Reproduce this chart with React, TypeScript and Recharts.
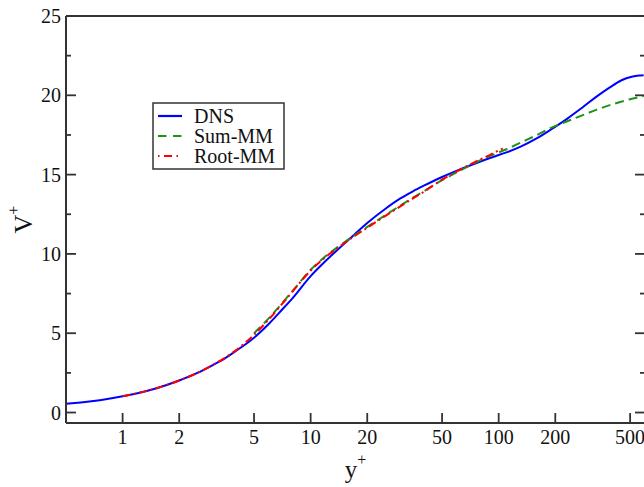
import { LineChart, Line, XAxis, YAxis } from 'recharts'

// mean velocity profile, wall units (log x)
const dnsYPlus = [0.5, 0.6, 0.7, 0.8, 1, 1.2, 1.5, 2, 2.5, 3, 3.5, 4, 5, 6, 7, 8, 10, 12, 14, 17, 20, 25, 30, 35, 40, 50, 60, 75, 90, 110, 130, 160, 190, 230, 280, 330, 390, 450, 510, 560, 590]
const dnsV = [0.55, 0.64, 0.73, 0.82, 1.02, 1.22, 1.52, 2.02, 2.5, 2.98, 3.42, 3.88, 4.72, 5.6, 6.45, 7.2, 8.6, 9.55, 10.3, 11.2, 11.95, 12.85, 13.5, 13.95, 14.3, 14.85, 15.25, 15.7, 16.05, 16.4, 16.75, 17.3, 17.85, 18.5, 19.25, 19.9, 20.5, 20.95, 21.17, 21.25, 21.27]

const sumYPlus = [5, 6, 7, 8, 10, 12, 14, 17, 20, 25, 30, 35, 40, 50, 60, 75, 90, 110, 130, 160, 190, 230, 280, 330, 390, 450, 510, 590]
const sumV = [5.0, 5.95, 6.85, 7.65, 9.0, 9.85, 10.45, 11.15, 11.7, 12.45, 13.05, 13.55, 13.95, 14.65, 15.15, 15.75, 16.18, 16.6, 17.0, 17.5, 17.95, 18.35, 18.75, 19.08, 19.38, 19.6, 19.78, 19.95]

const rootYPlus = [1, 1.2, 1.5, 2, 2.5, 3, 3.5, 4, 5, 6, 7, 8, 10, 12, 14, 17, 20, 25, 30, 35, 40, 50, 60, 75, 90, 105]
const rootV = [1.02, 1.22, 1.52, 2.02, 2.5, 2.99, 3.45, 3.92, 4.9, 5.88, 6.8, 7.62, 8.95, 9.8, 10.4, 11.1, 11.65, 12.4, 13.0, 13.5, 13.92, 14.68, 15.2, 15.8, 16.25, 16.65]

const xTicks = [1, 2, 5, 10, 20, 50, 100, 200, 500]
const yTicks = [0, 2.5, 5, 7.5, 10, 12.5, 15, 17.5, 20, 22.5, 25]

const toRows = (xs: number[], vs: number[]) => xs.map((x, i) => ({ x, v: vs[i] }))
const dnsData = toRows(dnsYPlus, dnsV)
const sumData = toRows(sumYPlus, sumV)
const rootData = toRows(rootYPlus, rootV)

const CHART_W = 680
const CHART_H = 487
const LEFT_W = 66
const TOP_H = 16
const BOTTOM_H = 64
const RIGHT_W = 35

const FONT = '"Liberation Serif", "Times New Roman", serif'
const AXIS = '#333'
const BLUE = '#0000ff'
const GREEN = '#1a941a'
const RED = '#ff0000'

const isMajor = (v: number) => v % 5 === 0

const BottomTick = ({ x, y, payload }: any) => (
  <g>
    <line x1={x} x2={x} y1={y} y2={y - 10} stroke={AXIS} strokeWidth={1.8} />
    <text x={x} y={y + 21} textAnchor="middle" fontFamily={FONT} fontSize={20} fill="#111">
      {payload.value}
    </text>
  </g>
)

const TopTick = ({ x, y }: any) => (
  <line x1={x} x2={x} y1={y} y2={y + 10} stroke={AXIS} strokeWidth={1.8} />
)

const LeftTick = ({ x, y, payload }: any) => {
  const major = isMajor(payload.value)
  return (
    <g>
      <line x1={x} x2={x + (major ? 10 : 5)} y1={y} y2={y} stroke={AXIS} strokeWidth={1.8} />
      {major && (
        <text x={x - 5} y={y + 7} textAnchor="end" fontFamily={FONT} fontSize={20} fill="#111">
          {payload.value}
        </text>
      )}
    </g>
  )
}

const RightTick = ({ x, y, payload }: any) => {
  const major = isMajor(payload.value)
  return <line x1={x} x2={x - (major ? 10 : 5)} y1={y} y2={y} stroke={AXIS} strokeWidth={1.8} />
}

const XTitle = () => {
  const cx = (LEFT_W + CHART_W - RIGHT_W) / 2
  return (
    <text x={cx} y={CHART_H - 9} textAnchor="middle" fontFamily={FONT} fontSize={25} fill="#111">
      y<tspan dy={-13} fontSize={16}>+</tspan>
    </text>
  )
}

const YTitle = () => {
  const cy = (TOP_H + CHART_H - BOTTOM_H) / 2
  return (
    <text transform={`translate(32, ${cy}) rotate(-90)`} textAnchor="middle" fontFamily={FONT} fontSize={26} fill="#111">
      V<tspan dy={-13} fontSize={16}>+</tspan>
    </text>
  )
}

const legendItems = [
  { name: 'DNS', color: BLUE, dash: undefined },
  { name: 'Sum-MM', color: GREEN, dash: '8.5 6.5' },
  { name: 'Root-MM', color: RED, dash: '1.5 4.5 8 4.5 1.5 10' },
]

function LegendBox() {
  return (
    <svg width={133} height={68} style={{ position: 'absolute', left: 152, top: 102 }}>
      <rect x={1} y={1} width={131} height={66} fill="#fff" stroke={AXIS} strokeWidth={1.5} />
      {legendItems.map((it, i) => {
        const cy = 14 + i * 20
        return (
          <g key={it.name}>
            <line x1={6} x2={30} y1={cy} y2={cy} stroke={it.color} strokeWidth={2.2} strokeDasharray={it.dash} />
            <text x={42} y={cy + 7} fontFamily={FONT} fontSize={20} fill="#111">
              {it.name}
            </text>
          </g>
        )
      })}
    </svg>
  )
}

export default function App() {
  return (
    <div style={{ position: 'fixed', left: 0, top: 0, width: 644, height: 487, overflow: 'hidden', background: '#fff' }}>
      <LineChart width={CHART_W} height={CHART_H} margin={{ top: 0, right: 0, left: 0, bottom: 0 }}>
        <XAxis
          xAxisId="top"
          orientation="top"
          type="number"
          scale="log"
          domain={[0.5, 600]}
          allowDataOverflow
          ticks={xTicks}
          interval={0}
          height={TOP_H}
          tickSize={0}
          tickMargin={0}
          tickLine={false}
          tick={<TopTick />}
          axisLine={{ stroke: AXIS, strokeWidth: 2 }}
        />
        <XAxis
          dataKey="x"
          type="number"
          scale="log"
          domain={[0.5, 600]}
          allowDataOverflow
          ticks={xTicks}
          interval={0}
          height={BOTTOM_H}
          tickSize={0}
          tickMargin={0}
          tickLine={false}
          tick={<BottomTick />}
          axisLine={{ stroke: AXIS, strokeWidth: 2 }}
          label={{ content: () => <XTitle /> }}
        />
        <YAxis
          type="number"
          domain={[-0.66, 25]}
          allowDataOverflow
          ticks={yTicks}
          interval={0}
          width={LEFT_W}
          tickSize={0}
          tickMargin={0}
          tickLine={false}
          tick={<LeftTick />}
          axisLine={{ stroke: AXIS, strokeWidth: 2 }}
          label={{ content: () => <YTitle /> }}
        />
        <YAxis
          yAxisId="right"
          orientation="right"
          type="number"
          domain={[-0.66, 25]}
          allowDataOverflow
          ticks={yTicks}
          interval={0}
          width={RIGHT_W}
          tickSize={0}
          tickMargin={0}
          tickLine={false}
          tick={<RightTick />}
          axisLine={{ stroke: AXIS, strokeWidth: 2 }}
        />
        <Line data={dnsData} dataKey="v" name="DNS" type="monotone" stroke={BLUE} strokeWidth={2} dot={false} isAnimationActive={false} />
        <Line data={sumData} dataKey="v" name="Sum-MM" type="monotone" stroke={GREEN} strokeWidth={2} strokeDasharray="9 5" dot={false} isAnimationActive={false} />
        <Line data={rootData} dataKey="v" name="Root-MM" type="monotone" stroke={RED} strokeWidth={2} strokeDasharray="8 3.5 2 3.5" dot={false} isAnimationActive={false} />
      </LineChart>
      <LegendBox />
    </div>
  )
}
